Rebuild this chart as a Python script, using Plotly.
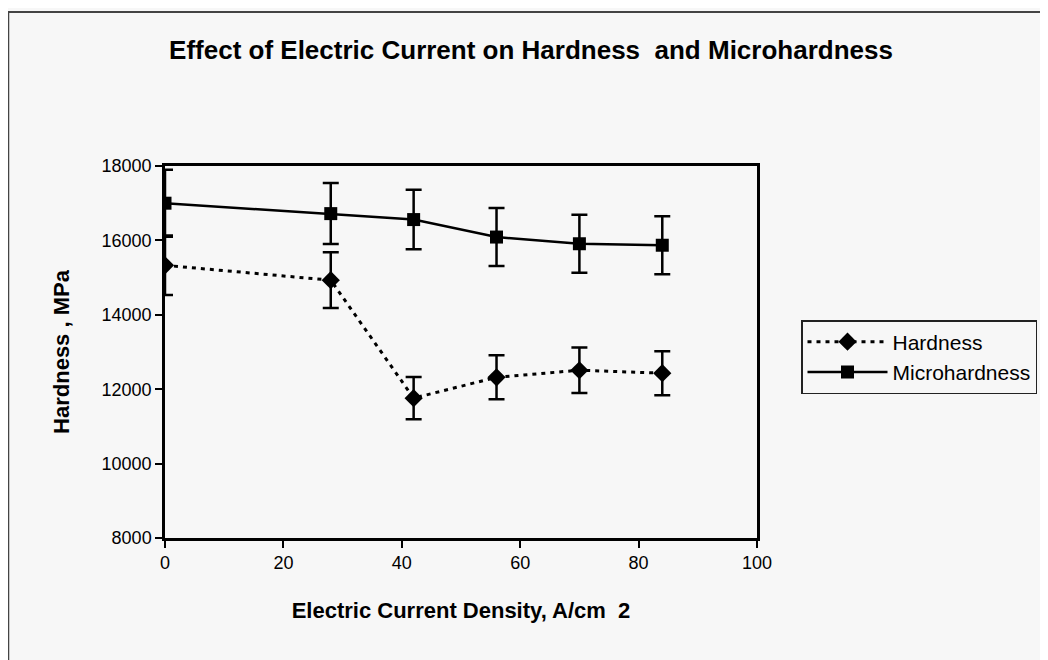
import plotly.graph_objects as go

current_density = [0, 28, 42, 56, 70, 84]
hardness = [15330, 14930, 11760, 12320, 12510, 12430]
hardness_err = [800, 750, 570, 590, 610, 590]
microhardness = [17000, 16720, 16560, 16090, 15910, 15870]
microhardness_err = [900, 820, 800, 780, 780, 780]

x_ticks = [0, 20, 40, 60, 80, 100]
y_ticks = [8000, 10000, 12000, 14000, 16000, 18000]

BG = "#f7f7f7"
FONT = "Liberation Sans, Arial, sans-serif"

fig = go.Figure()
fig.add_trace(go.Scatter(
    x=current_density, y=hardness, name="Hardness",
    mode="lines+markers",
    line=dict(color="black", width=3, dash="4px,5px"),
    marker=dict(symbol="diamond", size=14, color="black"),
    error_y=dict(type="data", array=hardness_err, visible=True,
                 color="black", thickness=2.5, width=8),
))
fig.add_trace(go.Scatter(
    x=current_density, y=microhardness, name="Microhardness",
    mode="lines+markers",
    line=dict(color="black", width=2.5),
    marker=dict(symbol="square", size=13, color="black"),
    error_y=dict(type="data", array=microhardness_err, visible=True,
                 color="black", thickness=2.5, width=8),
))

# page has an 8px body margin; figure is sized so that the plot area lands
# at screen x 165..758 and y 166..538
OFF = 8
W, H = 1048 - OFF, 660 - OFF
L, T = 165 - OFF, 166 - OFF
PW, PH = 593, 372
R = W - L - PW
B = H - T - PH

def px_x(p):
    return (p - OFF - L) / PW

def px_y(p):
    return (H - B - (p - OFF)) / PH

fig.update_layout(
    width=W, height=H,
    margin=dict(l=L, r=R, t=T, b=B),
    paper_bgcolor=BG, plot_bgcolor=BG,
    font=dict(family=FONT, size=16, color="black"),
    showlegend=True,
    title=dict(
        text="<b>Effect of Electric Current on Hardness  and Microhardness</b>",
        x=(531 - OFF) / W, xanchor="center", y=1 - (50 - OFF) / H, yanchor="middle",
        font=dict(family=FONT, size=26, color="black"),
    ),
    legend=dict(
        x=px_x(801), xanchor="left", y=px_y(320), yanchor="top",
        bgcolor=BG, bordercolor="#222", borderwidth=1.5,
        font=dict(family=FONT, size=21, color="black"),
        itemwidth=80, tracegroupgap=2,
    ),
    xaxis=dict(
        range=[0, 100], tickvals=x_ticks, ticktext=[str(v) for v in x_ticks],
        showgrid=False, zeroline=False,
        showline=True, linecolor="black", linewidth=2.5, mirror=True,
        ticks="outside", ticklen=7, tickwidth=1.5, tickcolor="black",
        tickfont=dict(family=FONT, size=18),
        title=dict(text="<b>Electric Current Density, A/cm  2</b>",
                   font=dict(family=FONT, size=22), standoff=31),
    ),
    yaxis=dict(
        range=[8000, 18000], tickvals=y_ticks, ticktext=[str(v) for v in y_ticks],
        showgrid=False, zeroline=False,
        showline=True, linecolor="black", linewidth=2.5, mirror=True,
        ticks="outside", ticklen=7, tickwidth=1.5, tickcolor="black",
        tickfont=dict(family=FONT, size=18),
        title=dict(text="<b>Hardness , MPa</b>",
                   font=dict(family=FONT, size=22), standoff=26),
    ),
    shapes=[dict(
        type="rect", xref="paper", yref="paper",
        x0=px_x(8), x1=px_x(1070), y0=px_y(680), y1=px_y(12),
        line=dict(color="#444", width=2), fillcolor="rgba(0,0,0,0)", layer="below",
    )],
)

fig.write_html("out.html")
